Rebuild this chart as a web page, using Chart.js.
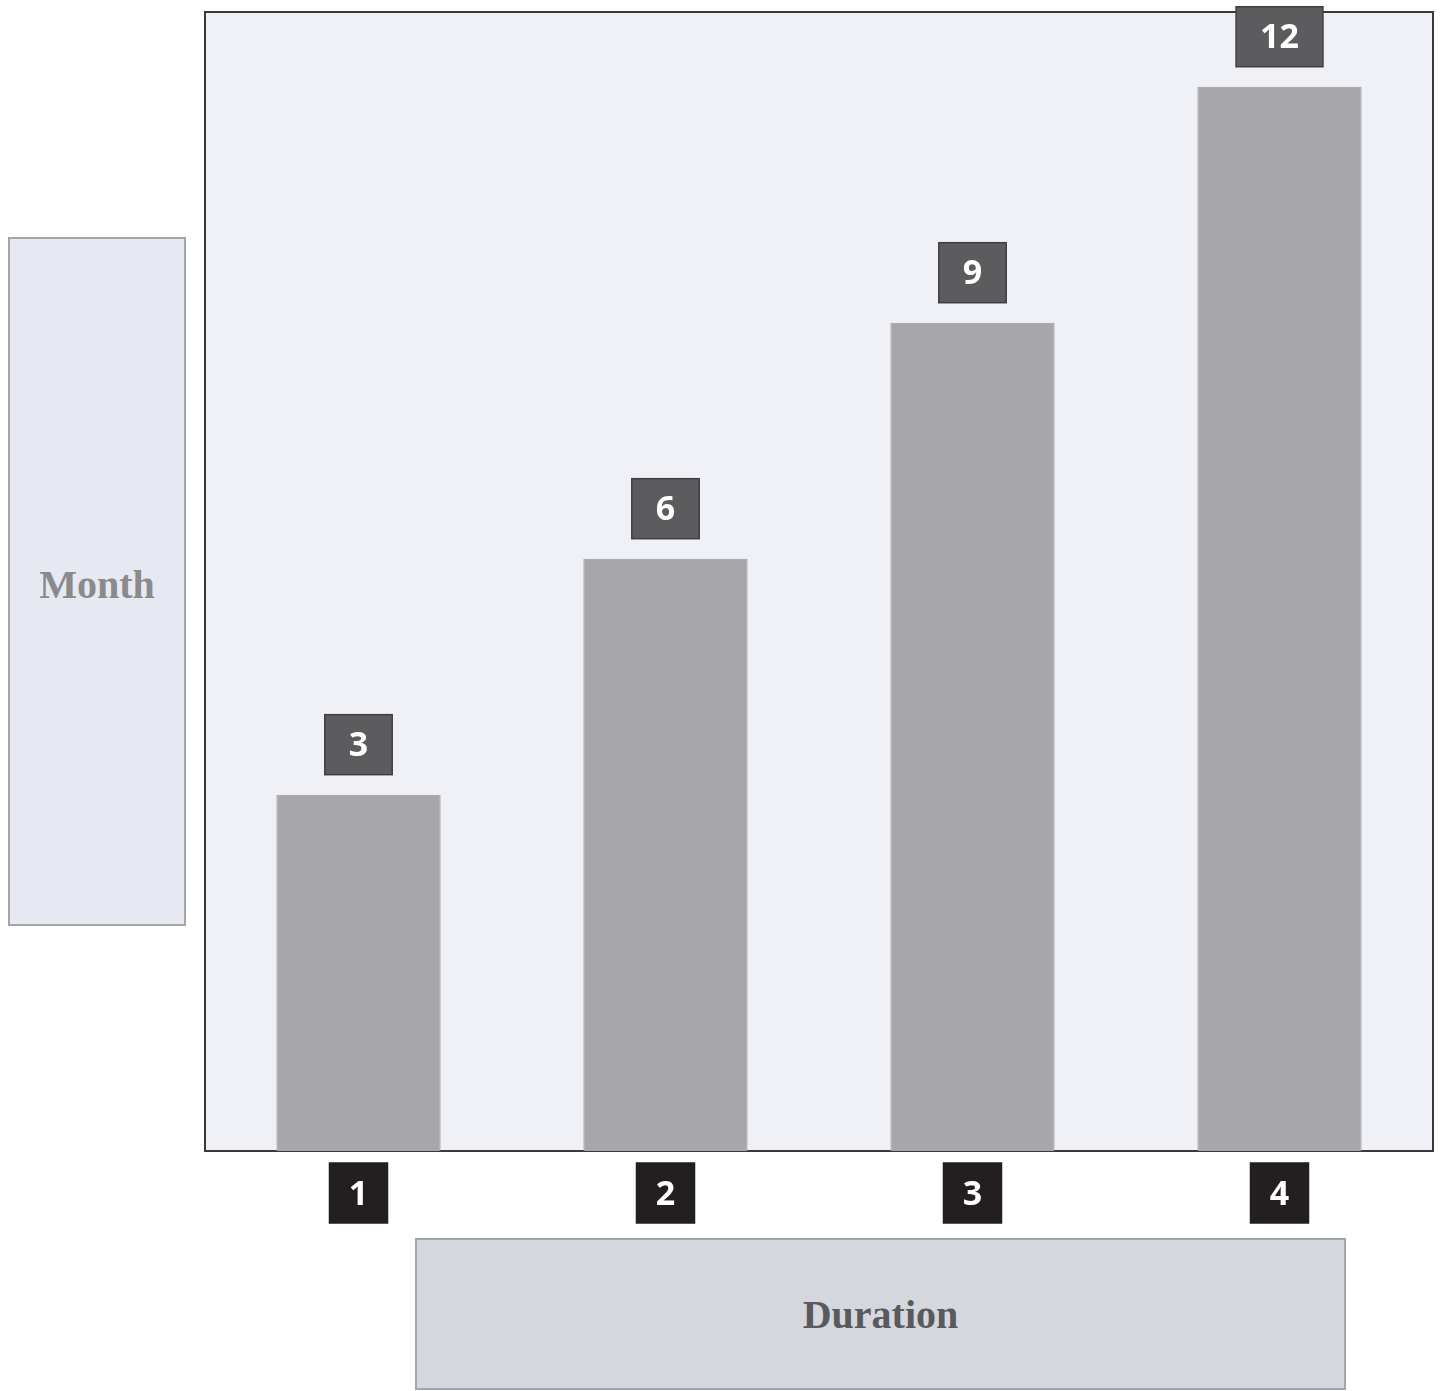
<!DOCTYPE html>
<html>
<head>
<meta charset="utf-8">
<script src="https://cdn.jsdelivr.net/npm/chart.js@4"></script>
<style>
  html, body { margin: 0; padding: 0; background: #fff; }
  #wrap { position: relative; width: 1445px; height: 1391px; }
  #chart { position: absolute; left: 0; top: 0; }
  .axis-box {
    position: absolute; box-sizing: border-box;
    border: 2px solid #a3a5aa;
    font-family: "Liberation Serif", "DejaVu Serif", serif; font-weight: bold; font-size: 40px;
    display: flex; justify-content: center;
  }
  #month { left: 8px; top: 237px; width: 178px; height: 689px; background: #e6e9f1; color: #8a8a8c; align-items: flex-start; padding-top: 322px; }
  #duration { left: 415px; top: 1238px; width: 931px; height: 152px; background: #d4d7de; color: #5a5a5c; align-items: center; }
</style>
</head>
<body>
<div id="wrap">
  <canvas id="chart" width="1445" height="1391"></canvas>
  <div id="month" class="axis-box">Month</div>
  <div id="duration" class="axis-box">Duration</div>
</div>
<script>
  const categories = ['1', '2', '3', '4'];
  const months = [3, 6, 9, 12];
  const Y_MIN = -1.53;
  const Y_MAX = 12.95;

  function box(ctx, cx, cy, w, h, fill, edge){
    ctx.fillStyle = fill;
    ctx.fillRect(cx - w/2, cy - h/2, w, h);
    ctx.strokeStyle = edge;
    ctx.lineWidth = 1.5;
    ctx.strokeRect(cx - w/2, cy - h/2, w, h);
  }

  const frame = {
    id: 'frame',
    beforeDatasetsDraw(chart){
      const { ctx, chartArea: a } = chart;
      ctx.save();
      ctx.fillStyle = '#eff1f7';
      ctx.fillRect(a.left, a.top, a.right - a.left, a.bottom - a.top);
      ctx.strokeStyle = '#3a3a3c';
      ctx.lineWidth = 2;
      ctx.strokeRect(a.left, a.top, a.right - a.left, a.bottom - a.top);
      ctx.restore();
    },
    afterDatasetsDraw(chart){
      const { ctx, chartArea: a } = chart;
      const xs = chart.scales.x;
      const bars = chart.getDatasetMeta(0).data;
      ctx.save();
      ctx.font = 'bold 34px "Open Sans", "DejaVu Sans", sans-serif';
      ctx.textAlign = 'center';
      ctx.textBaseline = 'middle';
      // value tags above the bars
      bars.forEach((bar, i) => {
        const txt = String(months[i]);
        const w = Math.max(58, ctx.measureText(txt).width + 48);
        const cy = bar.y - 20 - 30;
        box(ctx, bar.x, cy, w, 60, '#5c5c5e', '#3f3f41');
        ctx.fillStyle = '#ffffff';
        ctx.fillText(txt, bar.x, cy + 2);
      });
      // category tags under the axis
      categories.forEach((c, i) => {
        const cx = xs.getPixelForValue(i);
        const cy = a.bottom + 42;
        box(ctx, cx, cy, 58, 60, '#231f20', '#231f20');
        ctx.fillStyle = '#ffffff';
        ctx.fillText(c, cx, cy + 2);
      });
      ctx.restore();
    }
  };

  new Chart(document.getElementById('chart'), {
    type: 'bar',
    data: {
      labels: categories,
      datasets: [{
        label: 'Month',
        data: months,
        base: Y_MIN,
        backgroundColor: '#a7a7a9',
        borderColor: '#9b9b9d',
        borderWidth: 1,
        categoryPercentage: 1,
        barPercentage: 0.535
      }]
    },
    options: {
      responsive: false,
      animation: false,
      devicePixelRatio: 1,
      layout: { padding: { left: 205, top: 12, right: 12, bottom: 240 } },
      scales: {
        x: { display: false },
        y: { display: false, min: Y_MIN, max: Y_MAX }
      },
      plugins: { legend: { display: false }, tooltip: { enabled: false } }
    },
    plugins: [frame]
  });
</script>
</body>
</html>
